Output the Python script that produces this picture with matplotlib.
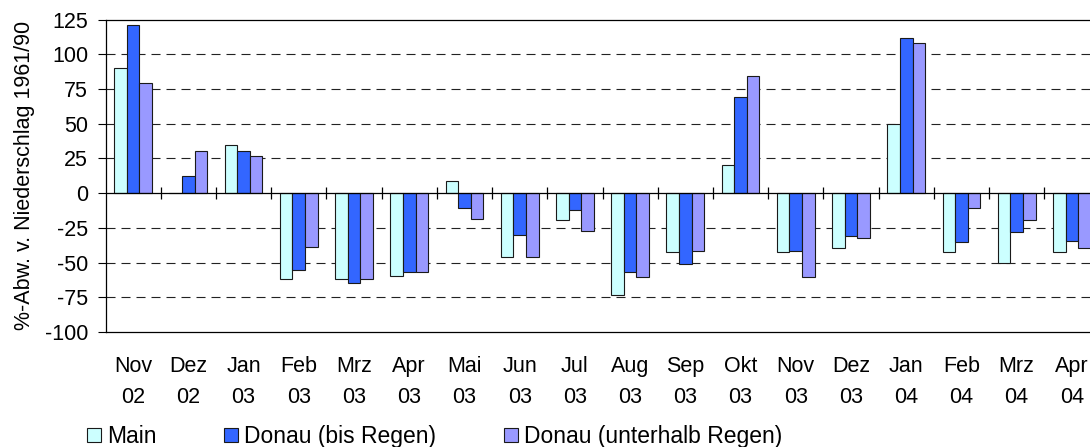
import matplotlib
matplotlib.use("Agg")
import matplotlib.pyplot as plt
import numpy as np

months = ["Nov", "Dez", "Jan", "Feb", "Mrz", "Apr", "Mai", "Jun", "Jul",
          "Aug", "Sep", "Okt", "Nov", "Dez", "Jan", "Feb", "Mrz", "Apr"]
years = ["02", "02", "03", "03", "03", "03", "03", "03", "03",
         "03", "03", "03", "03", "03", "04", "04", "04", "04"]

main = [90, 0, 35, -61.5, -61.5, -60, 8.5, -46, -19.5,
        -73.5, -42.5, 20, -42.5, -39.5, 49.5, -42.5, -50, -42.5]
donau_bis = [121, 12, 30, -55, -65, -56.5, -11, -30, -12.5,
             -56.5, -51, 69.5, -41.5, -31, 111.5, -35.5, -28, -34.5]
donau_unter = [79, 30, 27, -38.5, -61.5, -56.5, -18.5, -46, -27,
               -60.5, -41.5, 84.5, -60.5, -32, 108, -11, -19.5, -39.5]

series = [("Main", main, "#CCFFFF"),
          ("Donau (bis Regen)", donau_bis, "#3366FF"),
          ("Donau (unterhalb Regen)", donau_unter, "#9999FF")]

plt.rcParams['font.family'] = ['Liberation Sans', 'DejaVu Sans']
plt.rcParams['lines.scale_dashes'] = False
plt.rcParams['axes.unicode_minus'] = False

FS = 15.5
W, H = 1090, 447
fig = plt.figure(figsize=(W / 100, H / 100), dpi=100)
ax = fig.add_axes([105.5 / W, (H - 332) / H, 994 / W, (332 - 19.5) / H])

n = len(months)
x = np.arange(n)
bw = 0.228
handles = []
for i, (name, vals, col) in enumerate(series):
    h = ax.bar(x + (i - 1) * bw, vals, width=bw, color=col,
               edgecolor="#1a1a1a", linewidth=0.8, label=name, zorder=3)
    handles.append(h)

ax.set_xlim(-0.5, n - 0.5)
ax.set_ylim(-100, 125)
ax.set_yticks(np.arange(-100, 126, 25))
ax.tick_params(axis='y', direction='out', length=6, width=0.8,
               labelsize=FS, pad=6.5, color='black')

for v in [100, 75, 50, 25, -25, -50, -75]:
    ax.axhline(v, color='#222222', lw=0.8, linestyle=(0, (6.5, 4.3)), zorder=1)
ax.axhline(0, color='black', lw=0.9, zorder=4)
ax.plot(x[1:] - 0.5, np.zeros(n - 1), linestyle='none', marker='|',
        ms=9, mew=0.9, color='black', zorder=4)

ax.set_xticks(x)
ax.set_xticklabels([f"{m}\n{y}" for m, y in zip(months, years)],
                   fontsize=FS, linespacing=1.6)
ax.tick_params(axis='x', length=0, pad=17.5)

for s in ax.spines.values():
    s.set_linewidth(0.9)
    s.set_color('black')

ax.set_ylabel("%-Abw. v. Niederschlag 1961/90", fontsize=FS, labelpad=7)

fig.legend(handles=handles, labels=[s[0] for s in series], ncol=3,
           loc='center left', bbox_to_anchor=(87 / W, 1 - 436.5 / H),
           frameon=False, fontsize=16.5, handlelength=0.62, handleheight=0.62,
           handletextpad=0.26, columnspacing=2.95, borderaxespad=0, borderpad=0)

fig.savefig("out.png", dpi=100)
